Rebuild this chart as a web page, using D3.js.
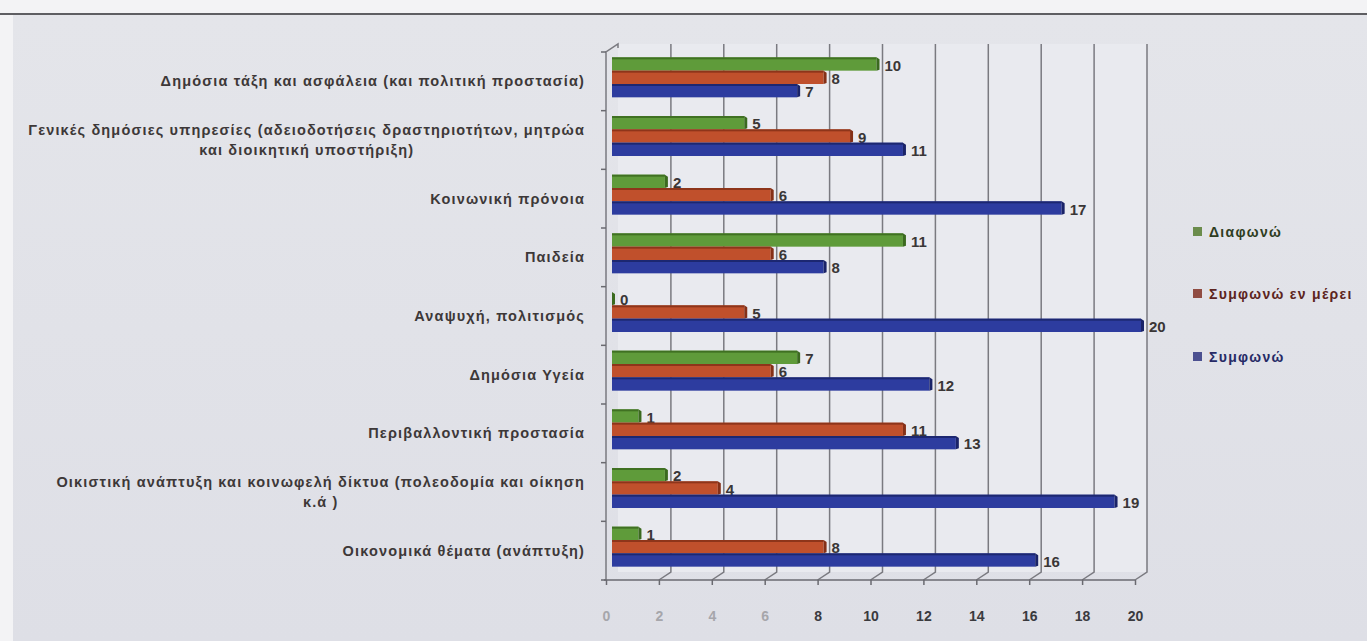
<!DOCTYPE html>
<html>
<head>
<meta charset="utf-8">
<script src="https://cdn.jsdelivr.net/npm/d3@7"></script>
<style>
  html, body { margin: 0; padding: 0; background: #f1f1f4; }
  svg { display: block; }
</style>
</head>
<body>
<svg id="chart" width="1367" height="641"></svg>
<script>
// ---------- DATA ----------
const categories = [
  ["Δημόσια τάξη και ασφάλεια (και πολιτική προστασία)"],
  ["Γενικές δημόσιες υπηρεσίες (αδειοδοτήσεις δραστηριοτήτων, μητρώα", "και διοικητική υποστήριξη)"],
  ["Κοινωνική πρόνοια"],
  ["Παιδεία"],
  ["Αναψυχή, πολιτισμός"],
  ["Δημόσια Υγεία"],
  ["Περιβαλλοντική προστασία"],
  ["Οικιστική ανάπτυξη και κοινωφελή δίκτυα (πολεοδομία και οίκηση", "κ.ά )"],
  ["Οικονομικά θέματα (ανάπτυξη)"]
];
const seriesNames = ["Διαφωνώ", "Συμφωνώ εν μέρει", "Συμφωνώ"];
const diafono      = [10, 5, 2, 11, 0, 7, 1, 2, 1];
const symfonoMerei = [8, 9, 6, 6, 5, 6, 11, 4, 8];
const symfono      = [7, 11, 17, 8, 20, 12, 13, 19, 16];
const xTicks = [0, 2, 4, 6, 8, 10, 12, 14, 16, 18, 20];

const seriesValues = [diafono, symfonoMerei, symfono];
const barColors  = ["#5f9b3a", "#c0502c", "#2d3c9f"];
const darkColors = ["#3b6a1f", "#853017", "#1a2368"];
const legendSq   = ["#6b8c4c", "#904c42", "#4b5090"];
const legendTxt  = ["#2f3d22", "#5c2420", "#262a66"];

// ---------- LAYOUT ----------
const svg = d3.select("#chart");
const W = 1367, H = 641;
const depth = { dx: 12, dy: -8 };

// background
svg.append("rect").attr("x", 0).attr("y", 0).attr("width", W).attr("height", H).attr("fill", "#f3f3f5");
const bgGrad = svg.append("defs").append("linearGradient").attr("id", "bg").attr("x1", 0).attr("y1", 0).attr("x2", 0).attr("y2", 1);
bgGrad.append("stop").attr("offset", "0%").attr("stop-color", "#e4e5ea");
bgGrad.append("stop").attr("offset", "100%").attr("stop-color", "#dedfe6");
svg.append("rect").attr("x", 13).attr("y", 15).attr("width", W - 13).attr("height", H - 15).attr("fill", "url(#bg)");
svg.append("line").attr("x1", 0).attr("x2", W).attr("y1", 14).attr("y2", 14)
  .attr("stroke", "#5e5e62").attr("stroke-width", 1.8);

const x = d3.scaleLinear().domain([0, 20]).range([606, 1135]);
const y = d3.scaleBand().domain(d3.range(categories.length)).range([52, 580]).paddingInner(0).paddingOuter(0);
const ySub = d3.scaleBand().domain(d3.range(seriesNames.length)).range([0, y.bandwidth()]).paddingInner(0).paddingOuter(0.7);

const floorY = 580, topY = 52;

// plot background (back wall)
svg.append("rect")
  .attr("x", x(0) + depth.dx).attr("y", topY + depth.dy)
  .attr("width", x(20) - x(0)).attr("height", floorY - topY)
  .attr("fill", "#e9eaef");

// gridlines on back wall + floor diagonals
const g = svg.append("g").attr("stroke", "#7a7a80").attr("stroke-width", 1.5).attr("fill", "none");
xTicks.forEach(t => {
  if (t === 0) return;
  g.append("path").attr("d",
    `M${x(t) + depth.dx},${topY + depth.dy} L${x(t) + depth.dx},${floorY + depth.dy} L${x(t)},${floorY}`);
});
// left wall
g.append("path").attr("d",
  `M${x(0)},${floorY} L${x(0)},${topY} L${x(0) + depth.dx},${topY + depth.dy} L${x(0) + depth.dx},${topY + depth.dy + 4}`);

// front x axis
const xAxisG = svg.append("g").attr("transform", `translate(0,${floorY})`)
  .call(d3.axisBottom(x).tickValues(xTicks).tickSize(5).tickPadding(26).tickFormat(d3.format("d")));
xAxisG.select(".domain").attr("stroke", "#6a6a70").attr("stroke-width", 1.5).attr("d", `M${x(0) - 2},0H${x(20)}`);
xAxisG.selectAll(".tick line").attr("stroke", "#6a6a70").attr("stroke-width", 1.5);
xAxisG.selectAll(".tick text")
  .attr("font-family", "Liberation Sans, Arial, sans-serif").attr("font-weight", "bold").attr("font-size", 14)
  .attr("fill", (d) => d <= 6 ? "#a6a6ab" : "#3a3a3e");

// left y axis ticks
const yTickPos = d3.range(categories.length + 1).map(i => 52 + i * y.step());
svg.append("g").selectAll("line").data(yTickPos).join("line")
  .attr("x1", x(0) - 5).attr("x2", x(0)).attr("y1", d => d).attr("y2", d => d)
  .attr("stroke", "#6a6a70").attr("stroke-width", 1.5);

// bars
const bx = depth.dx / 2, by = depth.dy / 2;
const barsG = svg.append("g");
categories.forEach((cat, ci) => {
  seriesValues.forEach((vals, si) => {
    const v = vals[ci];
    const y0 = y(ci) + ySub(si) + by;
    const h = ySub.bandwidth();
    const x0 = x(0) + bx;
    const x1 = x(v) + bx;
    // body
    barsG.append("rect").attr("x", x0).attr("y", y0).attr("width", Math.max(0, x1 - x0)).attr("height", h)
      .attr("fill", barColors[si]);
    // top edge
    barsG.append("rect").attr("x", x0).attr("y", y0).attr("width", Math.max(0, x1 - x0)).attr("height", 2)
      .attr("fill", darkColors[si]).attr("opacity", 0.85);
    // end cap
    barsG.append("path")
      .attr("d", `M${x1},${y0} L${x1 + 3},${y0 + 2} L${x1 + 3},${y0 + h - 1} L${x1},${y0 + h} Z`)
      .attr("fill", darkColors[si]);
    // value label
    barsG.append("text")
      .attr("x", x1 + 8).attr("y", y0 + h / 2 + 6.5)
      .attr("font-family", "Liberation Sans, Arial, sans-serif").attr("font-weight", "bold").attr("font-size", 15)
      .attr("fill", "#3a3636").text(v);
  });
});

// category labels
const labelRight = 585;
const labG = svg.append("g")
  .attr("font-family", "Liberation Sans, Arial, sans-serif").attr("font-weight", "bold").attr("font-size", 14.5)
  .attr("letter-spacing", "1.15px").attr("fill", "#3d3838");
categories.forEach((lines, ci) => {
  const cy = y(ci) + y.bandwidth() / 2;
  const lh = 20.5;
  const t = labG.append("text").attr("text-anchor", "middle");
  lines.forEach((ln, li) => {
    t.append("tspan").attr("y", cy + 5 + (li - (lines.length - 1) / 2) * lh).text(ln);
  });
  // center the block, right edge at labelRight
  const widths = [];
  t.selectAll("tspan").each(function () { widths.push(this.getComputedTextLength()); });
  const maxW = d3.max(widths);
  t.selectAll("tspan").attr("x", labelRight - maxW / 2);
});

// legend
const legG = svg.append("g").attr("font-family", "Liberation Sans, Arial, sans-serif")
  .attr("font-weight", "bold").attr("font-size", 14);
const legY = [232, 294, 357];
seriesNames.forEach((name, si) => {
  legG.append("rect").attr("x", 1193).attr("y", legY[si] - 5).attr("width", 9).attr("height", 9)
    .attr("fill", legendSq[si]);
  legG.append("text").attr("x", 1209).attr("y", legY[si] + 5).attr("fill", legendTxt[si])
    .attr("letter-spacing", "1.3px").text(name);
});
</script>
</body>
</html>
